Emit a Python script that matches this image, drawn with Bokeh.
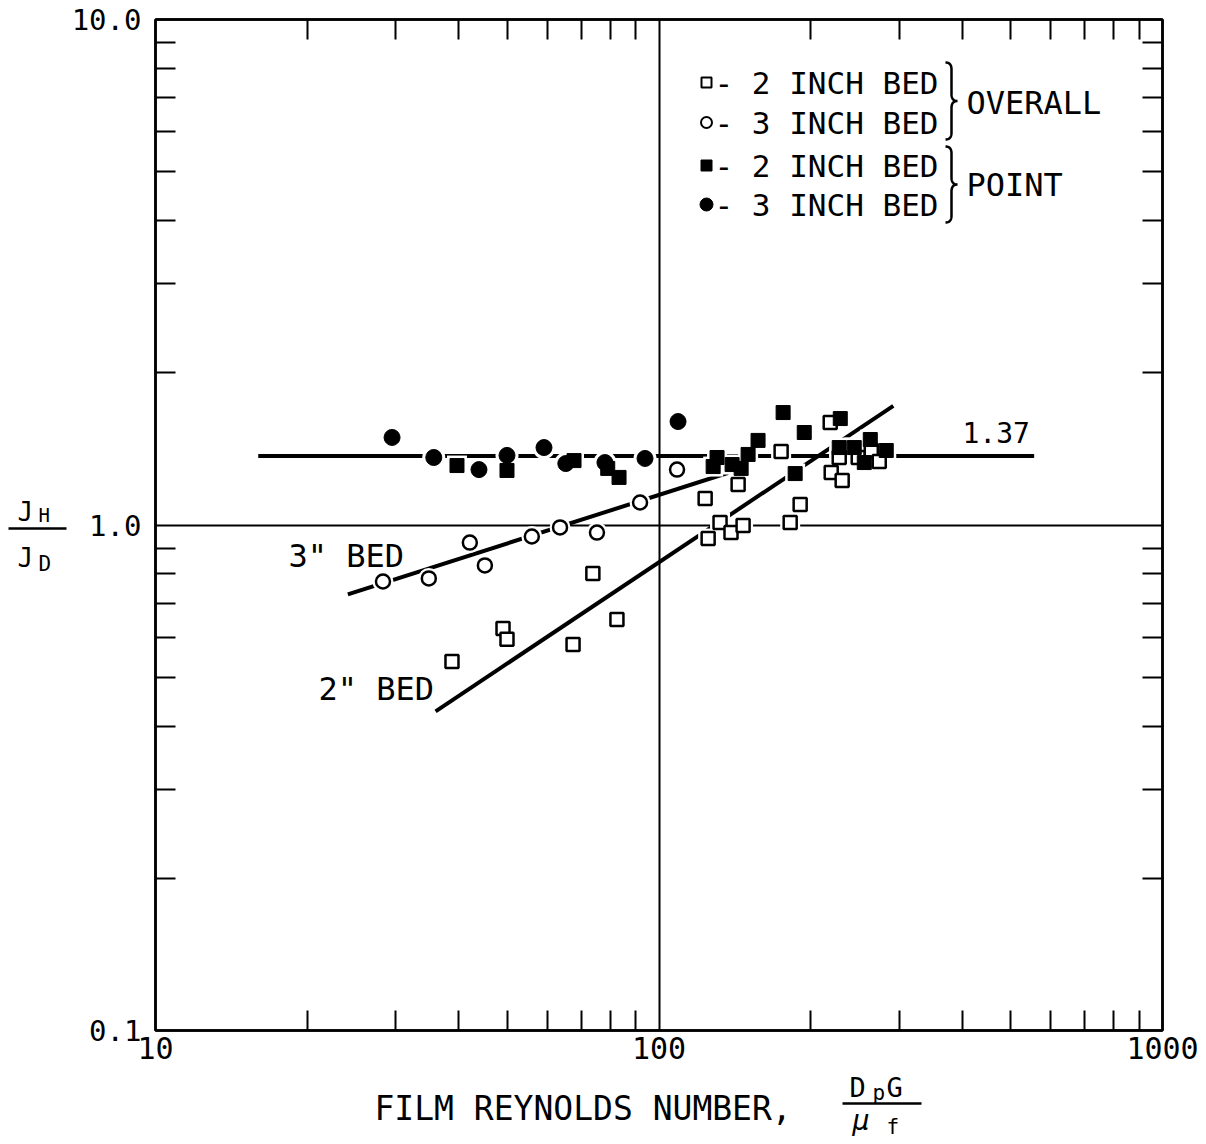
import numpy as np
from bokeh.plotting import figure
from bokeh.layouts import column, row
from bokeh.models import (LogAxis, FixedTicker, Label, Range1d,
                          LinearScale, CustomJSTickFormatter)
from bokeh.core.properties import value
from bokeh.embed import file_html
from bokeh.resources import INLINE

# ---------------- data ----------------
# overall coefficients, 2 inch bed (open squares)
overall_2in_re = [38.8, 49.0, 49.9, 67.5, 73.9, 82.5, 123.5, 125.2, 132.2, 139.0,
                  143.6, 146.9, 174.8, 182.2, 190.7, 218.8, 219.8, 228.0, 231.1,
                  248.7, 264.0, 273.8]
overall_2in_j = [0.537, 0.624, 0.594, 0.580, 0.802, 0.650, 1.128, 0.940, 1.011, 0.966,
                 1.203, 0.998, 1.398, 1.011, 1.098, 1.595, 1.270, 1.360, 1.225,
                 1.360, 1.404, 1.335]
# overall coefficients, 3 inch bed (open circles)
overall_3in_re = [28.3, 34.9, 42.1, 45.1, 55.9, 63.6, 75.3, 91.7, 108.6]
overall_3in_j = [0.773, 0.784, 0.923, 0.832, 0.949, 0.989, 0.966, 1.108, 1.287]
# point coefficients, 2 inch bed (filled squares)
point_2in_re = [39.7, 49.9, 67.8, 79.1, 83.3, 128.1, 130.4, 139.7, 145.6, 150.3,
                157.3, 176.4, 186.4, 194.3, 228.0, 229.1, 244.2, 255.7, 262.8, 282.7]
point_2in_j = [1.311, 1.282, 1.341, 1.294, 1.242, 1.305, 1.360, 1.317, 1.294, 1.379,
               1.470, 1.669, 1.264, 1.524, 1.423, 1.624, 1.423, 1.329, 1.476, 1.404]
# point coefficients, 3 inch bed (filled circles)
point_3in_re = [29.5, 35.7, 43.9, 49.9, 59.1, 65.3, 78.1, 93.8, 109.1]
point_3in_j = [1.49, 1.36, 1.287, 1.373, 1.423, 1.323, 1.329, 1.354, 1.602]

# correlation lines
mean_re = [16.0, 556.0]
mean_j = [1.37, 1.37]
bed3_re = [24.1, 137.8]
bed3_j = [0.729, 1.27]
bed2_re = [36.0, 292.0]
bed2_j = [0.428, 1.72]

# axes
x_major = [10, 100, 1000]
x_tick_labels = ["10", "100", "1000"]
x_minor = [20, 30, 40, 50, 60, 70, 80, 90, 200, 300, 400, 500, 600, 700, 800, 900]
y_major = [0.1, 1, 10]
y_tick_labels = ["0.1", "1.0", "10.0"]
y_minor = [0.2, 0.3, 0.4, 0.5, 0.6, 0.7, 0.8, 0.9, 2, 3, 4, 5, 6, 7, 8, 9]

legend_texts = ["- 2 INCH BED", "- 3 INCH BED", "- 2 INCH BED", "- 3 INCH BED"]
group_texts = ["OVERALL", "POINT"]
x_title = "FILM REYNOLDS NUMBER,"

FONT = "DejaVu Sans Mono"

# ---------------- layout sizes (page pixels) ----------------
PAGE_W, PAGE_H = 1206, 1144
LEFT_W = 68          # strip holding the J_H / J_D label
MAIN_H = 1072        # main plot height; strip below holds the x title
FRAME_L, FRAME_R, FRAME_T, FRAME_B = 155, 1162, 19, 1030

# ---------------- main figure ----------------
p = figure(width=PAGE_W - LEFT_W, height=MAIN_H, x_axis_type="log", y_axis_type="log",
           x_range=(10, 1000), y_range=(0.1, 10),
           output_backend="svg", toolbar_location=None,
           min_border_left=FRAME_L - LEFT_W, min_border_right=PAGE_W - FRAME_R,
           min_border_top=FRAME_T, min_border_bottom=MAIN_H - FRAME_B)
p.background_fill_color = "white"
p.border_fill_color = "white"
p.outline_line_color = "black"
p.outline_line_width = 2.5

# page-pixel helper coordinate system for in-frame decorations
p.extra_x_ranges = {"px": Range1d(FRAME_L, FRAME_R)}
p.extra_y_ranges = {"py": Range1d(FRAME_B, FRAME_T)}
p.extra_x_scales = {"px": LinearScale()}
p.extra_y_scales = {"py": LinearScale()}


def style_axis(ax, ticks, minor, labels=None, standoff=12, size="29px"):
    ax.ticker = FixedTicker(ticks=ticks, minor_ticks=minor)
    ax.axis_line_color = "black"
    ax.axis_line_width = 2.5
    ax.major_tick_in = 0
    ax.major_tick_out = 0
    ax.minor_tick_in = 20
    ax.minor_tick_out = 0
    ax.minor_tick_line_color = "black"
    ax.minor_tick_line_width = 2
    ax.axis_label = None
    if labels is None:
        ax.formatter = CustomJSTickFormatter(code="return ''")
        ax.major_label_standoff = 0
        ax.major_label_text_font_size = "1px"
    else:
        ax.major_label_overrides = dict(zip(ticks, labels))
        ax.major_label_text_font = FONT
        ax.major_label_text_font_size = size
        ax.major_label_text_color = "black"
        ax.major_label_standoff = standoff


style_axis(p.xaxis[0], x_major, x_minor, x_tick_labels, standoff=6, size="30px")
style_axis(p.yaxis[0], y_major, y_minor, y_tick_labels, standoff=14, size="29px")
top_ax = LogAxis()
style_axis(top_ax, x_major, x_minor)
p.add_layout(top_ax, "above")
right_ax = LogAxis()
style_axis(right_ax, y_major, y_minor)
p.add_layout(right_ax, "right")

p.xgrid.ticker = FixedTicker(ticks=[100])
p.ygrid.ticker = FixedTicker(ticks=[1])
for g in (p.xgrid, p.ygrid):
    g.grid_line_color = "black"
    g.grid_line_width = 2
    g.grid_line_alpha = 1

# ---------------- correlation lines ----------------
for xs, ys in ((mean_re, mean_j), (bed3_re, bed3_j), (bed2_re, bed2_j)):
    p.line(xs, ys, line_color="black", line_width=4)

# white halos so the lines break around the symbols (as in the drawing)
p.scatter(overall_2in_re, overall_2in_j, marker="square", size=20, fill_color="white", line_color=None)
p.scatter(overall_3in_re, overall_3in_j, marker="circle", size=21, fill_color="white", line_color=None)
p.scatter(point_2in_re, point_2in_j, marker="square", size=20, fill_color="white", line_color=None)
p.scatter(point_3in_re, point_3in_j, marker="circle", size=23, fill_color="white", line_color=None)

# ---------------- data points ----------------
p.scatter(overall_2in_re, overall_2in_j, marker="square", size=13,
          fill_color="white", line_color="black", line_width=2.5)
p.scatter(overall_3in_re, overall_3in_j, marker="circle", size=14,
          fill_color="white", line_color="black", line_width=2.5)
p.scatter(point_2in_re, point_2in_j, marker="square", size=14,
          fill_color="black", line_color="black", line_width=1)
p.scatter(point_3in_re, point_3in_j, marker="circle", size=16,
          fill_color="black", line_color="black", line_width=1)

# ---------------- legend (drawn in page-pixel coords) ----------------
row_y = [82, 122, 165, 204]
p.scatter([706], [row_y[0]], marker="square", size=10, fill_color="white",
          line_color="black", line_width=2, x_range_name="px", y_range_name="py")
p.scatter([706], [row_y[1]], marker="circle", size=11, fill_color="white",
          line_color="black", line_width=2, x_range_name="px", y_range_name="py")
p.scatter([706], [row_y[2]], marker="square", size=11, fill_color="black",
          line_color="black", x_range_name="px", y_range_name="py")
p.scatter([706], [row_y[3]], marker="circle", size=13, fill_color="black",
          line_color="black", x_range_name="px", y_range_name="py")


def label(text, x, y, size, align="left", style="normal"):
    p.add_layout(Label(x=x, y=y, text=text, x_range_name="px", y_range_name="py",
                       text_font=FONT, text_font_size=f"{size}px",
                       text_font_style=style, text_color="black",
                       text_baseline="middle", text_align=align))


for t, y in zip(legend_texts, row_y):
    label(t, 714, y, 31)
label(group_texts[0], 966, 102, 32)
label(group_texts[1], 966, 184, 32)


def brace(x0, y_top, y_bot, w=12, r=7):
    t = np.linspace(0, 1, 14)
    xm = x0 + w / 2
    mid = (y_top + y_bot) / 2

    def quad(a, b, c):
        return ((1 - t) ** 2 * a[0] + 2 * (1 - t) * t * b[0] + t ** 2 * c[0],
                (1 - t) ** 2 * a[1] + 2 * (1 - t) * t * b[1] + t ** 2 * c[1])
    parts = [quad((x0, y_top), (xm, y_top), (xm, y_top + r)),
             quad((xm, mid - r), (xm, mid), (x0 + w, mid)),
             quad((x0 + w, mid), (xm, mid), (xm, mid + r)),
             quad((xm, y_bot - r), (xm, y_bot), (x0, y_bot))]
    return (np.concatenate([pt[0] for pt in parts]),
            np.concatenate([pt[1] for pt in parts]))


for (yt, yb) in ((62, 139), (146, 222)):
    bx, by = brace(945, yt, yb)
    p.line(bx, by, line_color="black", line_width=2.5,
           x_range_name="px", y_range_name="py")

# ---------------- in-plot annotations ----------------
label('3" BED', 288, 555, 32)
label('2" BED', 318, 688, 32)
label("1.37", 962, 432, 28)


# ---------------- text strips outside the frame ----------------
def text_strip(w, h, x0, y0, y1, top=0, bottom=0):
    """Blank figure whose frame maps page pixels x0..x0+w, y0..y1 (y downward)."""
    f = figure(width=w, height=h, x_range=Range1d(x0, x0 + w),
               y_range=Range1d(y1, y0), x_axis_location=None,
               y_axis_location=None, output_backend="svg",
               toolbar_location=None, min_border_left=0, min_border_right=0,
               min_border_top=top, min_border_bottom=bottom)
    f.grid.visible = False
    f.outline_line_color = None
    f.background_fill_color = "white"
    f.border_fill_color = "white"
    return f


def put(f, text, x, y, size, style="normal"):
    f.text(x=[x], y=[y], text=[text], text_font=value(FONT),
           text_font_size=value(f"{size}px"), text_font_style=style,
           text_color="black", text_baseline="middle", text_align="left")


# y-axis title  J_H / J_D  (strip frame aligned with the main frame rows)
pl = text_strip(LEFT_W, MAIN_H, 0, FRAME_T, FRAME_B, top=FRAME_T, bottom=MAIN_H - FRAME_B)
put(pl, "J", 17, 511, 26)
put(pl, "H", 38, 514, 19)
pl.line([8, 66], [528, 528], line_color="black", line_width=2.5)
put(pl, "J", 17, 557, 26)
put(pl, "D", 38, 563, 21)

# x-axis title  FILM REYNOLDS NUMBER, DpG / mu_f
pb = text_strip(PAGE_W, PAGE_H - MAIN_H, 0, MAIN_H, PAGE_H)
put(pb, x_title, 374, 1108, 33)
put(pb, "D", 849, 1087, 27)
put(pb, "p", 872, 1092, 21)
put(pb, "G", 886, 1087, 27)
pb.line([842, 921], [1103, 1103], line_color="black", line_width=2.5)
put(pb, "\u03bc", 852, 1120, 28, style="italic")
put(pb, "f", 886, 1126, 21)

layout = column(row(pl, p), pb)
open("out.html", "w").write(file_html(layout, INLINE))
